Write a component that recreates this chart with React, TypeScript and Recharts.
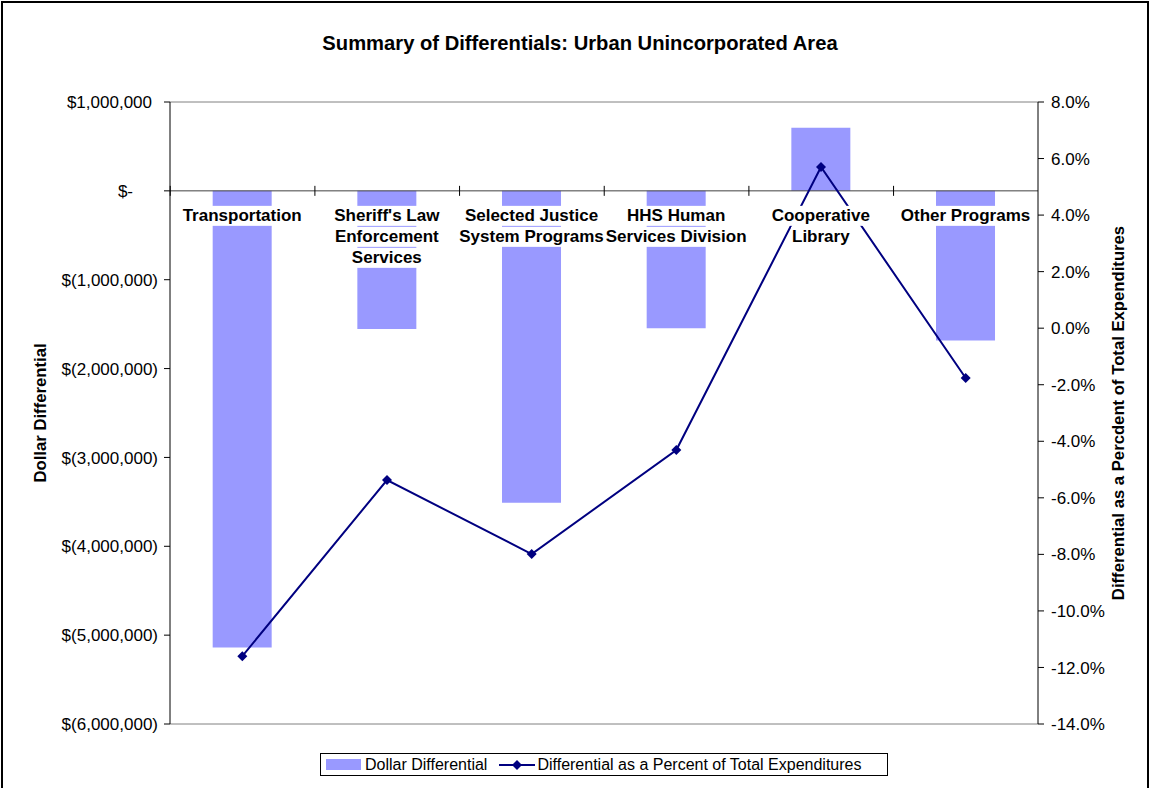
import {
  ComposedChart,
  Bar,
  Line,
  XAxis,
  YAxis,
  ReferenceLine,
  Legend,
  LabelList,
} from "recharts";

const FONT = "'Liberation Sans', Arial, sans-serif";
const BAR_COLOR = "#9999FF";
const LINE_COLOR = "#000080";
const GAP = 0.295;

const programs = [
  "Transportation",
  "Sheriff's Law Enforcement Services",
  "Selected Justice System Programs",
  "HHS Human Services Division",
  "Cooperative Library",
  "Other Programs",
];

const programLines = [
  ["Transportation"],
  ["Sheriff's Law", "Enforcement", "Services"],
  ["Selected Justice", "System Programs"],
  ["HHS Human", "Services Division"],
  ["Cooperative", "Library"],
  ["Other Programs"],
];

const dollarDiff = [-5140000, -1555000, -3510000, -1545000, 709000, -1685000];
const pctDiff = [-11.6, -5.37, -7.99, -4.31, 5.7, -1.76];

const dollarTicks = [1000000, 0, -1000000, -2000000, -3000000, -4000000, -5000000, -6000000];
const pctTicks = [8, 6, 4, 2, 0, -2, -4, -6, -8, -10, -12, -14];

const data = programs.map((p, i) => ({
  program: p,
  dollars: dollarDiff[i],
  pct: pctDiff[i],
}));

const fmtDollar = (v: number) => {
  if (v === 0) return "$-";
  const s = Math.abs(v).toLocaleString("en-US");
  return v < 0 ? `$(${s})` : `$${s}`;
};

let ctx: CanvasRenderingContext2D | null = null;
const textWidth = (t: string, font: string) => {
  if (!ctx && typeof document !== "undefined") ctx = document.createElement("canvas").getContext("2d");
  if (!ctx) return t.length * 9;
  ctx.font = font;
  return ctx.measureText(t).width;
};

function DollarTick(props: any) {
  const { x, y, payload } = props;
  const v = payload.value;
  const shift = v > 0 ? 6 : v === 0 ? 25 : 0;
  return (
    <text x={x - shift} y={y} dy="0.36em" textAnchor="end" fontSize={17} fill="#000" fontFamily={FONT}>
      {fmtDollar(v)}
    </text>
  );
}

function PctTick(props: any) {
  const { x, y, payload } = props;
  return (
    <text x={x} y={y} dy="0.36em" textAnchor="start" fontSize={17} fill="#000" fontFamily={FONT}>
      {`${payload.value.toFixed(1)}%`}
    </text>
  );
}

function AxisTitle(props: any) {
  const vb = props.viewBox || {};
  const cx = vb.x + props.at;
  const cy = vb.y + vb.height / 2;
  return (
    <text
      x={cx}
      y={cy}
      transform={`rotate(-90 ${cx} ${cy})`}
      textAnchor="middle"
      dominantBaseline="central"
      fontSize={16.7}
      fontWeight="bold"
      fill="#000"
      fontFamily={FONT}
    >
      {props.text}
    </text>
  );
}

// category names sit on the zero line, over bars and line, like Excel does
function CategoryLabel(props: any) {
  const vb = props.viewBox || props;
  const { x, y, width, height } = vb;
  const idx = programs.indexOf(props.value);
  if (idx < 0) return null;
  const top = Math.min(y, y + height);
  const bottom = Math.max(y, y + height);
  const zeroY = dollarDiff[idx] >= 0 ? bottom : top;
  const cx = x + width / 2;
  const band = width / (1 - 2 * GAP);
  const bandLeft = cx - band / 2;
  return (
    <g>
      <line x1={bandLeft} x2={bandLeft} y1={zeroY - 5} y2={zeroY + 5} stroke="#000" />
      {programLines[idx].map((t, i) => {
        const w = textWidth(t, `bold 17px ${FONT}`) + 2;
        const ly = zeroY + 15 + i * 21;
        return (
          <g key={i}>
            <rect x={cx - w / 2} y={ly} width={w} height={20} fill="#fff" />
            <text
              x={cx}
              y={ly + 15.5}
              textAnchor="middle"
              fontSize={17}
              fontWeight="bold"
              fill="#000"
              fontFamily={FONT}
            >
              {t}
            </text>
          </g>
        );
      })}
    </g>
  );
}

function Diamond(props: any) {
  const { cx, cy, index } = props;
  const r = 5;
  return (
    <path
      key={`d-${index}`}
      d={`M${cx},${cy - r}L${cx + r},${cy}L${cx},${cy + r}L${cx - r},${cy}Z`}
      fill={LINE_COLOR}
    />
  );
}

function LegendBox() {
  return (
    <div
      style={{
        border: "1px solid #000",
        height: 23,
        boxSizing: "border-box",
        display: "flex",
        alignItems: "center",
        fontFamily: FONT,
        fontSize: 16,
        color: "#000",
        background: "#fff",
        whiteSpace: "nowrap",
      }}
    >
      <span style={{ display: "inline-block", width: 35, height: 11, background: BAR_COLOR, marginLeft: 5, marginRight: 4 }} />
      <span>Dollar Differential</span>
      <svg width={36} height={12} style={{ marginLeft: 12, marginRight: 2 }}>
        <line x1={0} x2={36} y1={6} y2={6} stroke={LINE_COLOR} strokeWidth={2} />
        <path d="M18,1L23,6L18,11L13,6Z" fill={LINE_COLOR} />
      </svg>
      <span>Differential as a Percent of Total Expenditures</span>
    </div>
  );
}

export default function App() {
  return (
    <div style={{ position: "relative", width: 1151, height: 788, background: "#fff", overflow: "hidden" }}>
      <style>{"body{margin:0}"}</style>
      <div
        style={{
          position: "absolute",
          left: 1,
          top: 1,
          width: 1148,
          height: 820,
          border: "2px solid #000",
          boxSizing: "border-box",
          pointerEvents: "none",
        }}
      />
      <div
        style={{
          position: "absolute",
          top: 32,
          left: 0,
          width: 1160,
          textAlign: "center",
          fontFamily: FONT,
          fontWeight: "bold",
          fontSize: 20.2,
          color: "#000",
        }}
      >
        Summary of Differentials: Urban Unincorporated Area
      </div>
      <ComposedChart
        width={1151}
        height={788}
        data={data}
        margin={{ top: 102, right: 0, bottom: 64, left: 0 }}
        barCategoryGap={`${GAP * 100}%`}
      >
        <XAxis dataKey="program" hide />
        <XAxis xAxisId="labels" dataKey="program" hide />
        <YAxis
          yAxisId="left"
          width={170}
          domain={[-6000000, 1000000]}
          ticks={dollarTicks}
          interval={0}
          axisLine={{ stroke: "#000" }}
          tickLine={{ stroke: "#000" }}
          tickSize={6}
          tickMargin={6}
          tick={<DollarTick />}
          label={<AxisTitle text="Dollar Differential" at={40} />}
        />
        <YAxis
          yAxisId="right"
          orientation="right"
          width={113}
          domain={[-14, 8]}
          ticks={pctTicks}
          interval={0}
          axisLine={{ stroke: "#000" }}
          tickLine={{ stroke: "#000" }}
          tickSize={6}
          tickMargin={7}
          tick={<PctTick />}
          label={<AxisTitle text="Differential as a Percdent of Total Expenditures" at={80} />}
        />
        <ReferenceLine yAxisId="left" y={1000000} stroke="#808080" />
        <ReferenceLine yAxisId="left" y={-6000000} stroke="#808080" />
        <Bar yAxisId="left" dataKey="dollars" fill={BAR_COLOR} isAnimationActive={false} name="Dollar Differential" />
        <ReferenceLine yAxisId="left" y={0} stroke="#404040" />
        <Line
          yAxisId="right"
          dataKey="pct"
          stroke={LINE_COLOR}
          strokeWidth={2}
          dot={<Diamond />}
          activeDot={false}
          isAnimationActive={false}
          name="Differential as a Percent of Total Expenditures"
        />
        <Bar
          xAxisId="labels"
          yAxisId="left"
          dataKey="dollars"
          fill="transparent"
          legendType="none"
          isAnimationActive={false}
        >
          <LabelList dataKey="program" content={<CategoryLabel />} />
        </Bar>
        <Legend
          layout="horizontal"
          verticalAlign="middle"
          align="center"
          content={() => <LegendBox />}
          wrapperStyle={{ top: 753, left: 320, width: 568, height: 23 }}
        />
      </ComposedChart>
    </div>
  );
}
